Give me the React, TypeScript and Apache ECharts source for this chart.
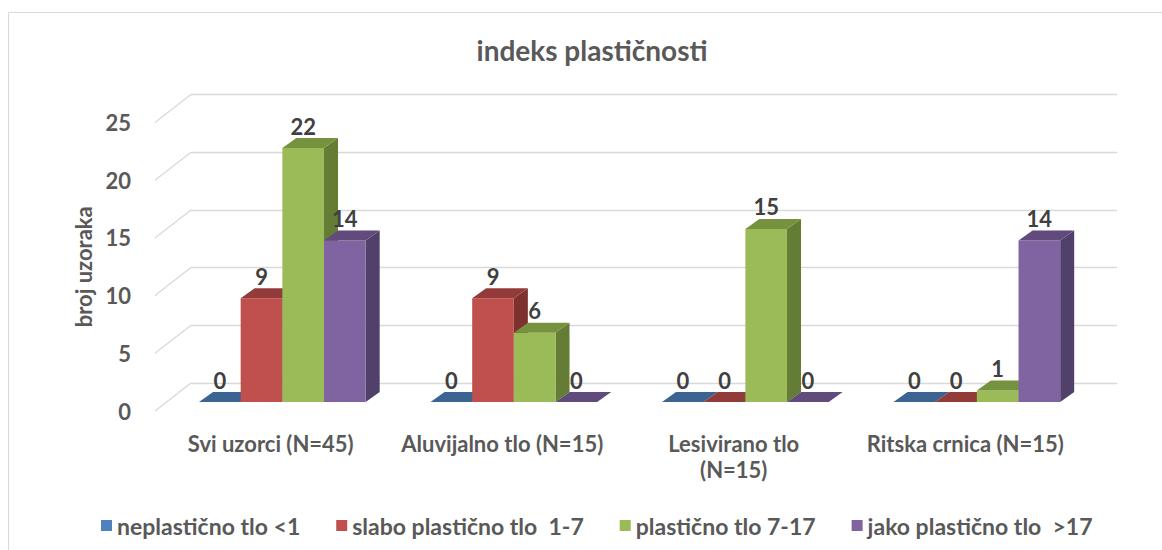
import React, { useEffect, useRef } from "react";
import * as echarts from "echarts";

const categories = [
  "Svi uzorci (N=45)",
  "Aluvijalno tlo (N=15)",
  "Lesivirano tlo (N=15)",
  "Ritska crnica (N=15)",
];
const seriesNames = [
  "neplastično tlo <1",
  "slabo plastično tlo  1-7",
  "plastično tlo 7-17",
  "jako plastično tlo  >17",
];
const neplasticno = [0, 0, 0, 0];
const slaboPlasticno = [9, 9, 0, 0];
const plasticno = [22, 6, 15, 1];
const jakoPlasticno = [14, 0, 0, 14];
const yTicks = [0, 5, 10, 15, 20, 25];

const seriesValues = [neplasticno, slaboPlasticno, plasticno, jakoPlasticno];
const frontColors = ["#4f81bd", "#c0504d", "#9bbb59", "#8064a2"];
const topColors = ["#3c6492", "#933b39", "#77923f", "#614b7d"];
const sideColors = ["#304f76", "#7e3230", "#657c35", "#51406a"];

const FONT = "Lato, 'Open Sans', sans-serif";
const GRID_W = 926;
const GRID_H = 288.5;
const DEPTH_DX = 14;
const DEPTH_DY = -10;

export default function App() {
  const ref = useRef<HTMLDivElement>(null);
  useEffect(() => {
    document.body.style.margin = "0";
    if (!ref.current) return;
    const chart = echarts.init(ref.current, null, { renderer: "svg" });

    const barSeries = seriesValues.map((vals, idx) => ({
      type: "custom",
      name: seriesNames[idx],
      xAxisIndex: 0,
      yAxisIndex: 0,
      clip: false,
      z: 3,
      itemStyle: { color: frontColors[idx] },
      encode: { x: 0, y: 1 },
      data: categories.map((_, i) => [i, vals[i]]),
      renderItem: (params: any, api: any) => {
        const cat = api.value(0);
        const v = api.value(1);
        const base = api.coord([cat, 0]);
        const top = api.coord([cat, v]);
        const band = api.size([1, 0])[0];
        const bw = band * 0.18;
        const x0 = base[0] - 2 * bw + idx * bw;
        const x1 = x0 + bw;
        const yb = base[1];
        const yt = top[1];
        const children: any[] = [];
        if (v > 0) {
          children.push({
            type: "polygon",
            shape: {
              points: [
                [x1, yt],
                [x1 + DEPTH_DX, yt + DEPTH_DY],
                [x1 + DEPTH_DX, yb + DEPTH_DY],
                [x1, yb],
              ],
            },
            style: { fill: sideColors[idx] },
          });
          children.push({
            type: "rect",
            shape: { x: x0, y: yt, width: bw, height: yb - yt },
            style: { fill: frontColors[idx] },
          });
        }
        children.push({
          type: "polygon",
          shape: {
            points: [
              [x0, yt],
              [x1, yt],
              [x1 + DEPTH_DX, yt + DEPTH_DY],
              [x0 + DEPTH_DX, yt + DEPTH_DY],
            ],
          },
          style: { fill: topColors[idx] },
        });
        children.push({
          type: "text",
          style: {
            text: String(v),
            x: (x0 + x1) / 2,
            y: yt - 22,
            align: "center",
            verticalAlign: "middle",
            font: `bold 22px ${FONT}`,
            fill: "#404040",
          },
        });
        return { type: "group", children };
      },
    }));

    const option: any = {
      animation: false,
      backgroundColor: "#ffffff",
      title: {
        text: "indeks plastičnosti",
        left: 587,
        top: 31,
        textAlign: "center",
        textStyle: {
          fontFamily: FONT,
          fontWeight: "bold",
          fontSize: 28,
          color: "#595959",
        },
      },
      legend: {
        data: seriesNames,
        left: 96,
        top: 509,
        icon: "rect",
        itemWidth: 11,
        itemHeight: 11,
        itemGap: 36,
        textStyle: {
          fontFamily: FONT,
          fontWeight: "bold",
          fontSize: 23,
          color: "#595959",
        },
      },
      graphic: [
        {
          type: "rect",
          shape: { x: 8.5, y: 12.5, width: 1200, height: 600 },
          style: { fill: "none", stroke: "#d9d9d9", lineWidth: 1 },
          silent: true,
        },
      ],
      grid: [
        { left: 166.6, top: 113.5, width: GRID_W, height: GRID_H },
        { left: 155, top: 122.5, width: GRID_W, height: GRID_H },
        { left: 191, top: 94.5, width: GRID_W, height: GRID_H },
      ],
      xAxis: [
        { type: "category", gridIndex: 0, data: categories, show: false },
        {
          type: "category",
          gridIndex: 1,
          data: categories,
          axisLine: { show: false },
          axisTick: { show: false },
          axisLabel: {
            interval: 0,
            hideOverlap: false,
            margin: 19,
            fontFamily: FONT,
            fontWeight: "bold",
            fontSize: 22,
            lineHeight: 26,
            color: "#595959",
            formatter: (v: string) =>
              v === "Lesivirano tlo (N=15)" ? "Lesivirano tlo\n(N=15)" : v,
          },
        },
        { type: "category", gridIndex: 2, data: categories, show: false },
      ],
      yAxis: [
        { type: "value", gridIndex: 0, min: 0, max: 25, interval: 5, show: false },
        {
          type: "value",
          gridIndex: 1,
          min: 0,
          max: 25,
          interval: 5,
          name: "broj uzoraka",
          nameLocation: "middle",
          nameGap: 59,
          nameTextStyle: {
            fontFamily: FONT,
            fontWeight: "bold",
            fontSize: 22,
            color: "#595959",
          },
          axisLine: { show: false },
          axisTick: { show: false },
          splitLine: { show: false },
          axisLabel: {
            margin: 24,
            fontFamily: FONT,
            fontWeight: "bold",
            fontSize: 22,
            color: "#595959",
          },
        },
        {
          type: "value",
          gridIndex: 2,
          min: 0,
          max: 25,
          interval: 5,
          axisLine: { show: false },
          axisTick: { show: false },
          axisLabel: { show: false },
          splitLine: { show: true, lineStyle: { color: "#d9d9d9", width: 1.3 } },
        },
      ],
      series: [
        {
          type: "custom",
          name: "walls",
          xAxisIndex: 0,
          yAxisIndex: 0,
          clip: false,
          silent: true,
          z: 1,
          encode: { y: 0 },
          data: yTicks.map((t) => [t]),
          renderItem: (params: any, api: any) => {
            const cs = params.coordSys;
            const y = api.coord([0, api.value(0)])[1];
            return {
              type: "line",
              shape: { x1: cs.x - 11.6, y1: y + 9, x2: cs.x + 24.4, y2: y - 19 },
              style: { stroke: "#d9d9d9", lineWidth: 1.3 },
            };
          },
        },
        ...barSeries,
      ],
    };
    chart.setOption(option);
    return () => chart.dispose();
  }, []);
  return <div ref={ref} style={{ width: 1162, height: 550 }} />;
}
